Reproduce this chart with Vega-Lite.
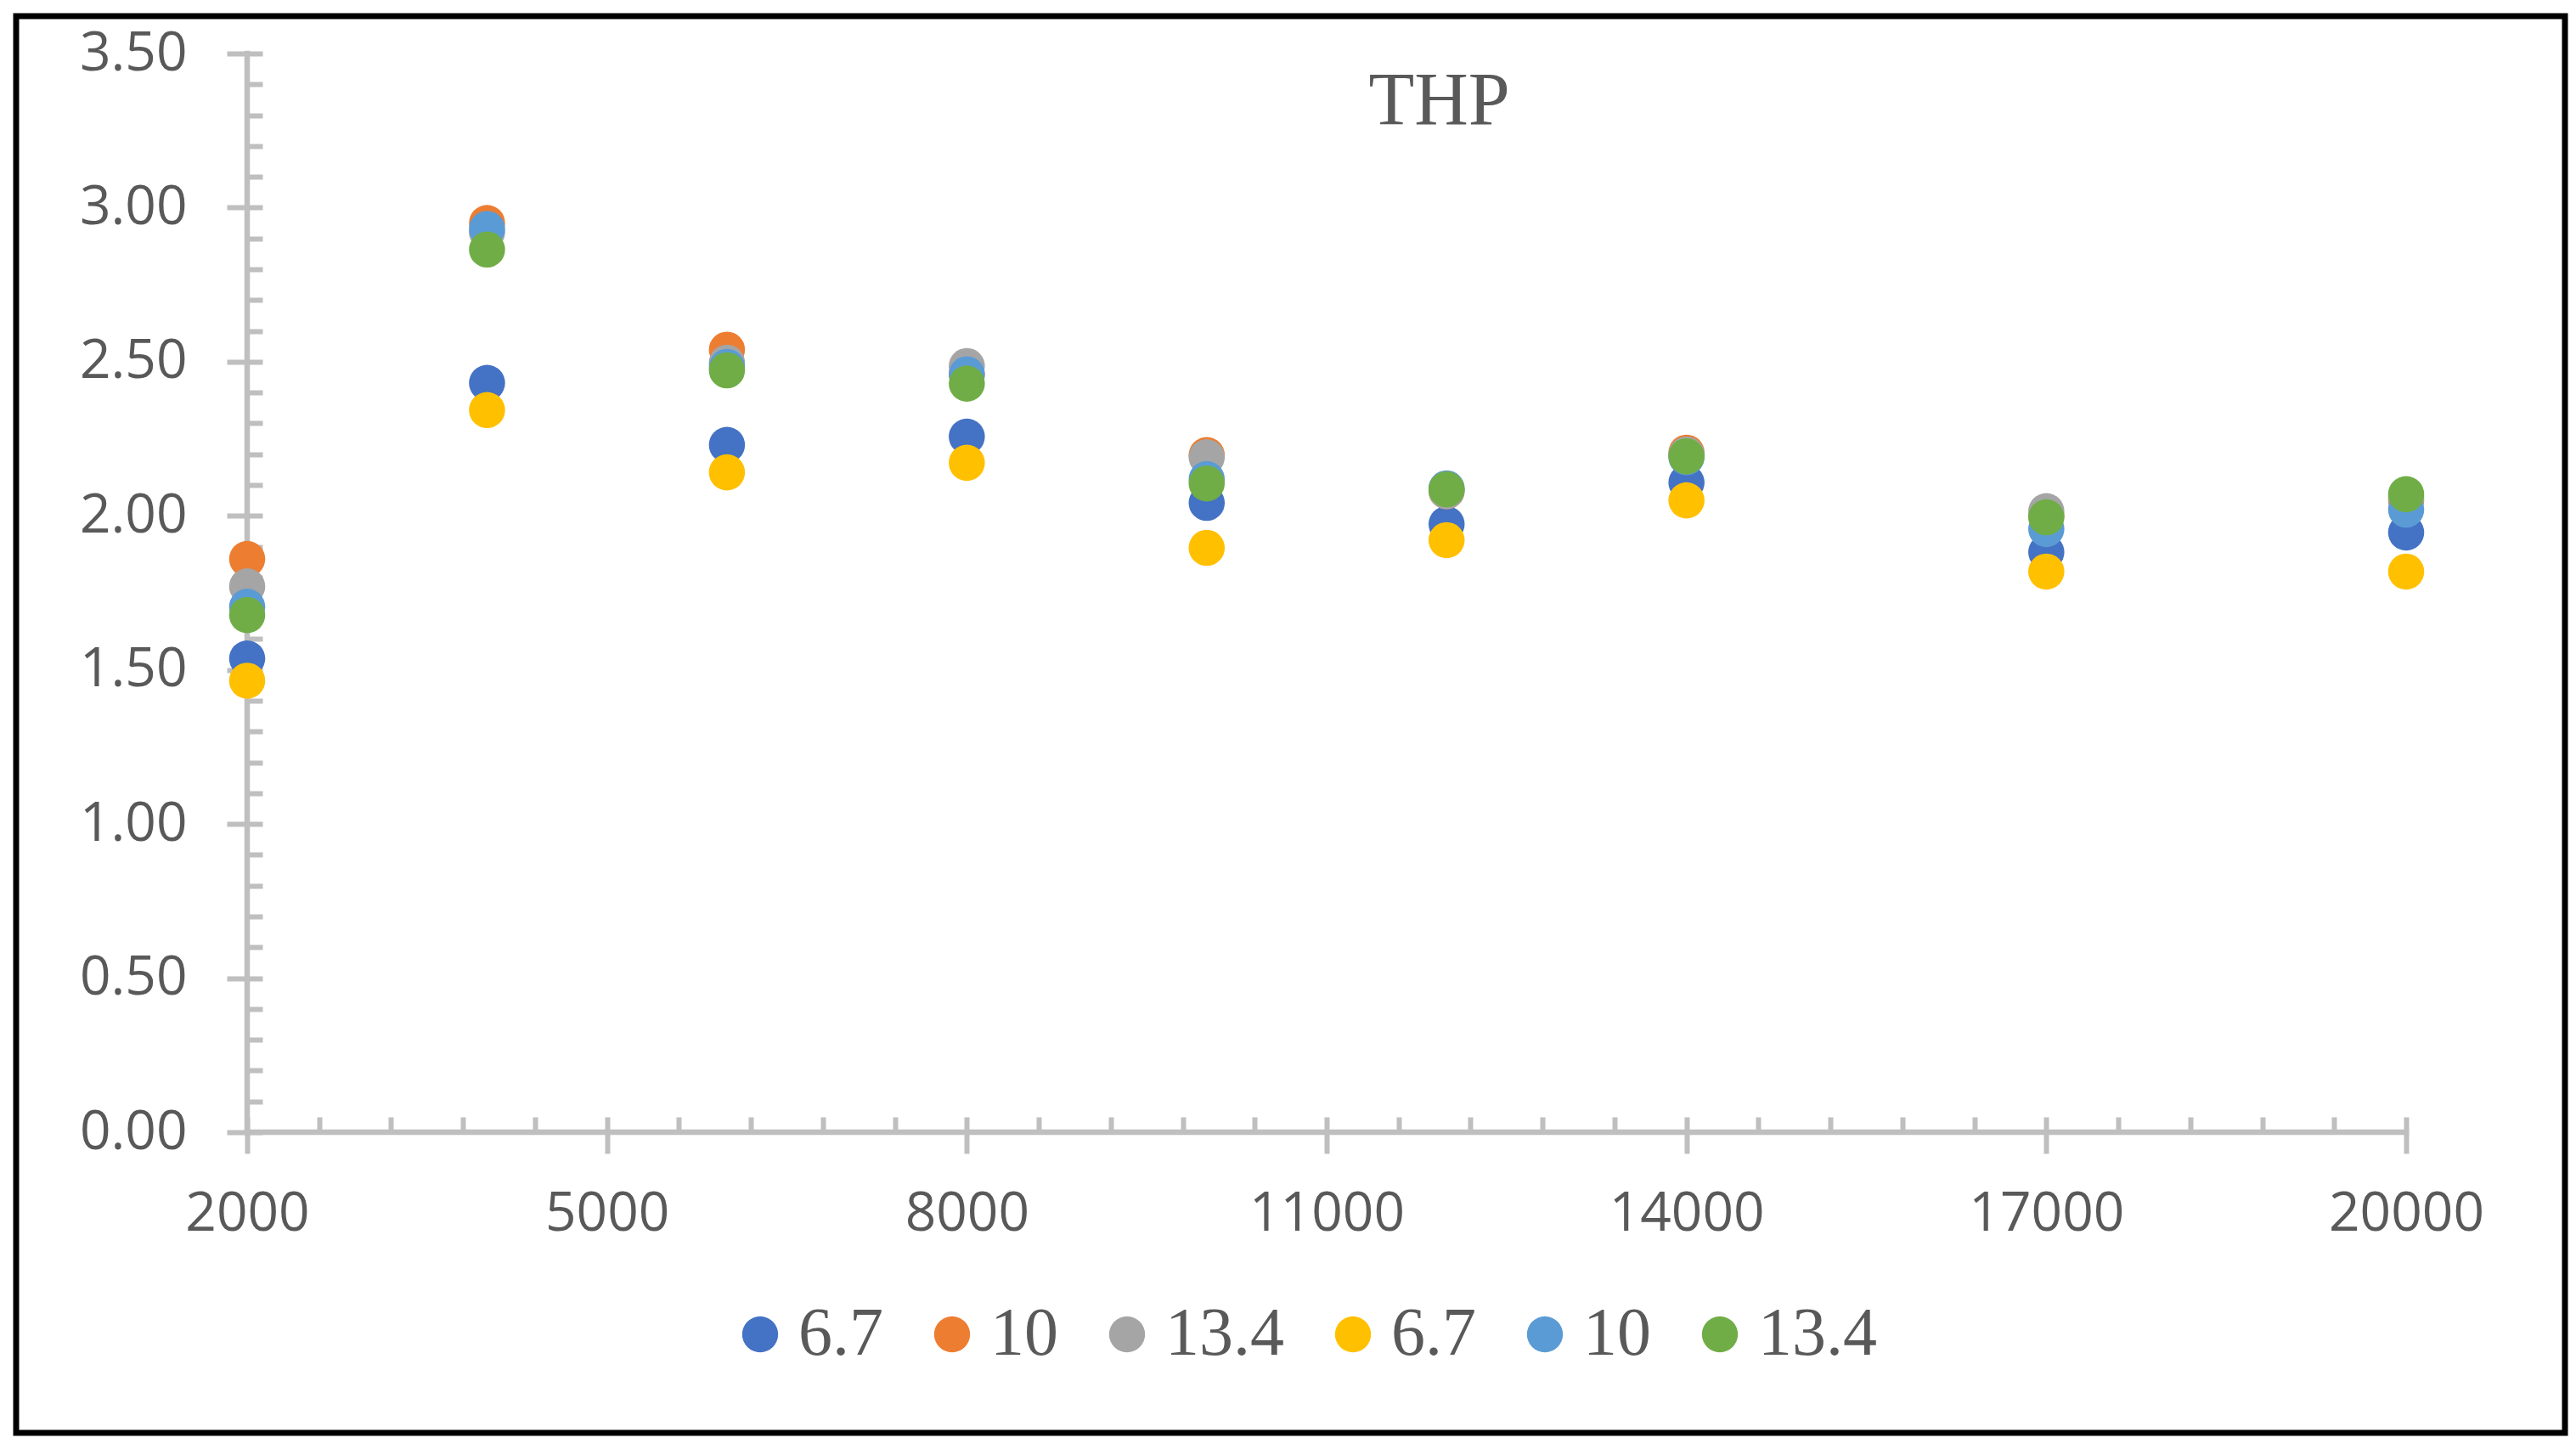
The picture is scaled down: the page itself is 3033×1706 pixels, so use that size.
{
  "$schema": "https://vega.github.io/schema/vega-lite/v6.json",
  "autosize": {"type": "none"},
  "width": 3001,
  "height": 1668,
  "padding": {"left": 19, "top": 19, "right": 13, "bottom": 19},
  "background": "#FFFFFF",
  "config": {
    "view": {"stroke": "#000000", "strokeWidth": 7},
    "axis": {"grid": false, "domain": false, "tickColor": "#BFBFBF", "tickWidth": 6, "labelColor": "#595959", "labelFont": "Open Sans", "labelFontSize": 64, "labelLimit": 0, "labelOverlap": false, "title": null}
  },
  "title": {"text": "THP", "font": "Liberation Serif", "fontSize": 88, "fontWeight": "normal", "color": "#595959", "anchor": "middle", "dx": 175, "dy": 83, "baseline": "alphabetic", "offset": -132},
  "layer": [
    {
      "data": {"values": [{}]},
      "mark": {"type": "rule", "color": "#BFBFBF", "strokeWidth": 6.5, "strokeCap": "square"},
      "encoding": {
        "x": {"datum": 2000, "type": "quantitative", "scale": {"domain": [73.96, 21324.2], "nice": false, "zero": false},
          "axis": {"orient": "bottom", "offset": -354, "values": [2000,2600,3200,3800,4400,5000,5600,6200,6800,7400,8000,8600,9200,9800,10400,11000,11600,12200,12800,13400,14000,14600,15200,15800,16400,17000,17600,18200,18800,19400,20000], "tickSize": -18, "labels": false, "domain": false}},
        "x2": {"datum": 20000},
        "y": {"datum": 0, "type": "quantitative", "scale": {"domain": [-0.97559, 3.62126], "nice": false, "zero": false}, "axis": null}
      }
    },
    {
      "data": {"values": [{}]},
      "mark": {"type": "rule", "color": "#BFBFBF", "strokeWidth": 6.5, "strokeCap": "square"},
      "encoding": {
        "x": {"datum": 2000, "type": "quantitative", "scale": {"domain": [73.96, 21324.2], "nice": false, "zero": false}, "axis": null},
        "y": {"datum": 0, "type": "quantitative", "scale": {"domain": [-0.97559, 3.62126], "nice": false, "zero": false},
          "axis": {"orient": "left", "offset": -272, "values": [0,0.1,0.2,0.3,0.4,0.5,0.6,0.7,0.8,0.9,1,1.1,1.2,1.3,1.4,1.5,1.6,1.7,1.8,1.9,2,2.1,2.2,2.3,2.4,2.5,2.6,2.7,2.8,2.9,3,3.1,3.2,3.3,3.4,3.5], "tickSize": -18, "labels": false, "domain": false}},
        "y2": {"datum": 3.5}
      }
    },
    {
      "data": {"values": [
        {"x": 2000, "series": "s1", "value": 1.537},
        {"x": 4000, "series": "s1", "value": 2.431},
        {"x": 6000, "series": "s1", "value": 2.230},
        {"x": 8000, "series": "s1", "value": 2.257},
        {"x": 10000, "series": "s1", "value": 2.042},
        {"x": 12000, "series": "s1", "value": 1.973},
        {"x": 14000, "series": "s1", "value": 2.108},
        {"x": 17000, "series": "s1", "value": 1.882},
        {"x": 20000, "series": "s1", "value": 1.946},
        {"x": 2000, "series": "s2", "value": 1.860},
        {"x": 4000, "series": "s2", "value": 2.950},
        {"x": 6000, "series": "s2", "value": 2.539},
        {"x": 8000, "series": "s2", "value": 2.460},
        {"x": 10000, "series": "s2", "value": 2.197},
        {"x": 12000, "series": "s2", "value": 2.080},
        {"x": 14000, "series": "s2", "value": 2.205},
        {"x": 17000, "series": "s2", "value": 2.000},
        {"x": 20000, "series": "s2", "value": 2.050},
        {"x": 2000, "series": "s3", "value": 1.771},
        {"x": 4000, "series": "s3", "value": 2.920},
        {"x": 6000, "series": "s3", "value": 2.497},
        {"x": 8000, "series": "s3", "value": 2.486},
        {"x": 10000, "series": "s3", "value": 2.190},
        {"x": 12000, "series": "s3", "value": 2.080},
        {"x": 14000, "series": "s3", "value": 2.199},
        {"x": 17000, "series": "s3", "value": 2.015},
        {"x": 20000, "series": "s3", "value": 2.060},
        {"x": 2000, "series": "s4", "value": 1.465},
        {"x": 4000, "series": "s4", "value": 2.343},
        {"x": 6000, "series": "s4", "value": 2.141},
        {"x": 8000, "series": "s4", "value": 2.172},
        {"x": 10000, "series": "s4", "value": 1.896},
        {"x": 12000, "series": "s4", "value": 1.921},
        {"x": 14000, "series": "s4", "value": 2.050},
        {"x": 17000, "series": "s4", "value": 1.819},
        {"x": 20000, "series": "s4", "value": 1.819},
        {"x": 2000, "series": "s5", "value": 1.705},
        {"x": 4000, "series": "s5", "value": 2.931},
        {"x": 6000, "series": "s5", "value": 2.483},
        {"x": 8000, "series": "s5", "value": 2.459},
        {"x": 10000, "series": "s5", "value": 2.119},
        {"x": 12000, "series": "s5", "value": 2.089},
        {"x": 14000, "series": "s5", "value": 2.190},
        {"x": 17000, "series": "s5", "value": 1.957},
        {"x": 20000, "series": "s5", "value": 2.020},
        {"x": 2000, "series": "s6", "value": 1.678},
        {"x": 4000, "series": "s6", "value": 2.864},
        {"x": 6000, "series": "s6", "value": 2.472},
        {"x": 8000, "series": "s6", "value": 2.429},
        {"x": 10000, "series": "s6", "value": 2.105},
        {"x": 12000, "series": "s6", "value": 2.086},
        {"x": 14000, "series": "s6", "value": 2.193},
        {"x": 17000, "series": "s6", "value": 1.995},
        {"x": 20000, "series": "s6", "value": 2.070}
      ]},
      "mark": {"type": "point", "shape": "circle", "filled": true, "opacity": 1, "size": 1810, "strokeWidth": 0},
      "encoding": {
        "x": {"field": "x", "type": "quantitative", "scale": {"domain": [73.96, 21324.2], "nice": false, "zero": false},
          "axis": {"orient": "bottom", "offset": -354, "values": [2000,5000,8000,11000,14000,17000,20000], "format": "d", "tickSize": 25, "labelPadding": 71, "labelBaseline": "middle", "domain": false}},
        "y": {"field": "value", "type": "quantitative", "scale": {"domain": [-0.97559, 3.62126], "nice": false, "zero": false},
          "axis": {"orient": "left", "offset": -272, "values": [0,0.5,1,1.5,2,2.5,3,3.5], "format": ".2f", "tickSize": 24, "labelPadding": 47, "domain": false}},
        "color": {"field": "series", "type": "nominal",
          "scale": {"domain": ["s1","s2","s3","s4","s5","s6"], "range": ["#4472C4","#ED7D31","#A5A5A5","#FFC000","#5B9BD5","#70AD47"]},
          "legend": {"orient": "none", "legendX": 836, "legendY": 1512, "direction": "horizontal", "columns": 6, "title": null, "padding": 0,
            "symbolType": "circle", "symbolSize": 1800, "symbolStrokeWidth": 0, "symbolOpacity": 1,
            "labelFont": "Liberation Serif", "labelFontSize": 80, "labelColor": "#595959", "labelOffset": 5, "columnPadding": 41,
            "labelExpr": "(datum.value == 's1' || datum.value == 's4') ? '6.7' : ((datum.value == 's2' || datum.value == 's5') ? '10' : '13.4')"}}
      }
    }
  ],
  "resolve": {"axis": {"x": "independent", "y": "independent"}}
}
